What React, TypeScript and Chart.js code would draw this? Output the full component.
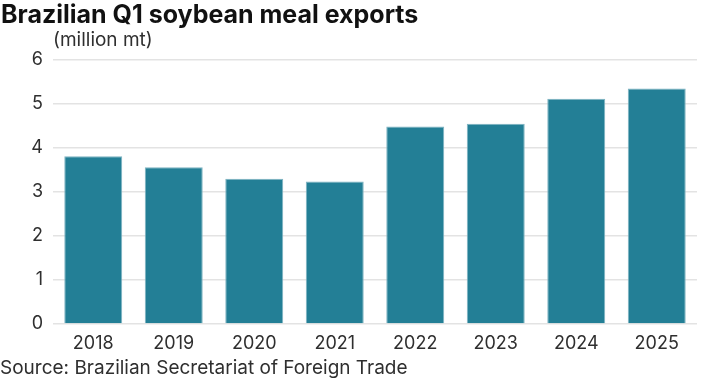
import React, { useEffect, useRef } from "react";
import { Chart, registerables } from "chart.js";

Chart.register(...registerables);

const categories = ["2018", "2019", "2020", "2021", "2022", "2023", "2024", "2025"];
const exportsMt = [3.81, 3.56, 3.3, 3.24, 4.49, 4.55, 5.12, 5.35];
const yTicks = [0, 1, 2, 3, 4, 5, 6];

const titleText = "Brazilian Q1 soybean meal exports";
const unitText = "(million mt)";
const sourceText = "Source: Brazilian Secretariat of Foreign Trade";

const FONT = "Inter, Roboto, sans-serif";
const TEXT = "#2f2f2f";

const textPlugin = {
  id: "texts",
  afterDraw(chart: any) {
    const ctx = chart.ctx;
    ctx.save();
    ctx.textBaseline = "alphabetic";
    ctx.textAlign = "left";
    ctx.fillStyle = "#111";
    ctx.font = `bold 25px ${FONT}`;
    ctx.fillText(titleText, 1, 23);
    ctx.fillStyle = TEXT;
    ctx.font = `19px ${FONT}`;
    ctx.fillText(unitText, 53, 46);
    ctx.fillText(sourceText, 0, 374);
    ctx.restore();
  },
};

export default function App() {
  const ref = useRef<HTMLCanvasElement | null>(null);
  useEffect(() => {
    document.body.style.margin = "0";
    const chart = new Chart(ref.current as HTMLCanvasElement, {
      type: "bar",
      data: {
        labels: categories,
        datasets: [
          {
            data: exportsMt,
            backgroundColor: "#237f96",
            borderColor: "#7db3c1",
            borderWidth: 1,
            categoryPercentage: 1,
            barPercentage: 0.72,
          },
        ],
      },
      options: {
        responsive: false,
        animation: false,
        layout: { padding: { top: 60, right: 23, bottom: 24, left: 0 } },
        plugins: { legend: { display: false }, tooltip: { enabled: false }, title: { display: false } },
        scales: {
          x: {
            grid: { display: false },
            border: { display: false },
            ticks: { color: TEXT, font: { family: FONT, size: 18 }, padding: 1 },
            afterFit(axis: any) {
              axis.height = 31;
            },
          },
          y: {
            min: 0,
            max: 6,
            afterBuildTicks(axis: any) {
              axis.ticks = yTicks.map((v) => ({ value: v }));
            },
            grid: { color: "#e3e3e3", lineWidth: 1.5, drawTicks: false },
            border: { display: false },
            ticks: { color: TEXT, font: { family: FONT, size: 18 }, padding: 10 },
            afterFit(axis: any) {
              axis.width = 53;
            },
          },
        },
      },
      plugins: [textPlugin],
    });
    return () => chart.destroy();
  }, []);
  return <canvas ref={ref} width={720} height={379} style={{ display: "block" }} />;
}
